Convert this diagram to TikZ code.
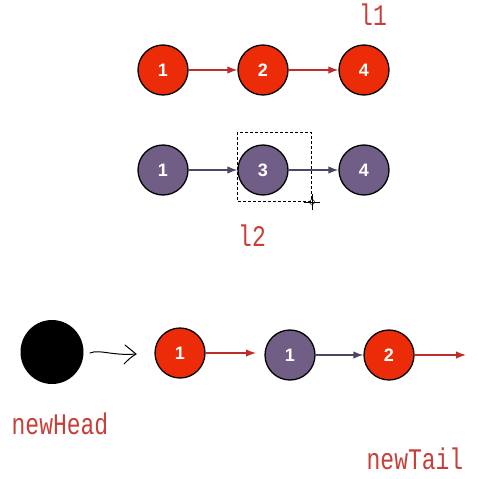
\documentclass[tikz,border=0pt]{standalone}
\usepackage{fontspec}
\usepackage{graphicx}
\setmainfont{Liberation Sans}
\newfontfamily\labfont{Liberation Mono}
\usetikzlibrary{arrows.meta,shapes.geometric}
\definecolor{nodered}{RGB}{236,44,8}
\definecolor{nodepurple}{RGB}{112,94,134}
\definecolor{arrred}{RGB}{190,45,40}
\definecolor{arrpurple}{RGB}{80,68,100}
\definecolor{labred}{RGB}{200,62,56}
\newcommand{\tallabel}[1]{\scalebox{1}[1.3]{#1}}
\tikzset{
  rnode/.style={circle,draw=black,line width=1.3pt,fill=nodered,minimum size=50pt,inner sep=0pt,text=white,font=\bfseries\fontsize{18}{18}\selectfont},
  pnode/.style={rnode,fill=nodepurple},
  rarr/.style={draw=arrred,line width=1.4pt,-{Latex[length=10pt,width=7.5pt]}},
  parr/.style={draw=arrpurple,line width=1.4pt,-{Latex[length=10pt,width=7.5pt]}},
  lab/.style={text=labred,font=\labfont\fontsize{23}{23}\selectfont,inner sep=0pt}
}
\begin{document}
\begin{tikzpicture}[x=1pt,y=-1pt]
\useasboundingbox (0,0) rectangle (478,479);
% row 1
\node[rnode] (a1) at (163,70) {1};
\node[rnode] (a2) at (263,70) {2};
\node[rnode] (a3) at (364,70) {4};
\draw[rarr] (a1) -- (a2);
\draw[rarr] (a2) -- (a3);
\node[lab] (l1) at (373,15) {\tallabel{l1}};
% row 2
\node[pnode] (b1) at (163,170) {1};
\node[pnode] (b2) at (263,170) {3};
\node[pnode] (b3) at (364,170) {4};
\draw[parr] (b1) -- (b2);
\draw[parr] (b2) -- (b3);
\draw[dashed,line width=0.7pt,dash pattern=on 3pt off 2pt] (237,132) rectangle (311,201);
\coordinate (cur) at (312,202);
\draw[line width=0.5pt] (cur) circle (2.5pt);
\draw[line width=0.5pt] (304,202) -- (320,202) (312,194) -- (312,210);
\node[lab] (l2) at (252,236) {\tallabel{l2}};
% row 3
\node[ellipse,fill=black,minimum width=63pt,minimum height=64pt,inner sep=0pt] (h) at (52,352) {};
\coordinate (hs) at (90,353);
\coordinate (he) at (136,354);
\draw[line width=1pt,line cap=round] (hs) .. controls (100,349) and (112,356) .. (he);
\draw[line width=1pt,line cap=round,line join=round] (125,345) .. controls (131,349) .. (he) .. controls (130,358) .. (124,364);
\node[rnode] (c1) at (180,353) {1};
\node[pnode] (c2) at (290,355) {1};
\node[rnode] (c3) at (389,355) {2};
\coordinate (c4) at (466,355);
\coordinate (m) at (256,353);
\draw[rarr] (c1) -- (m);
\draw[parr] (c2) -- (c3);
\draw[rarr] (c3) -- (c4);
\node[lab] (nh) at (60,424) {\tallabel{newHead}};
\node[lab] (nt) at (415,459) {\tallabel{newTail}};
\end{tikzpicture}
\end{document}
